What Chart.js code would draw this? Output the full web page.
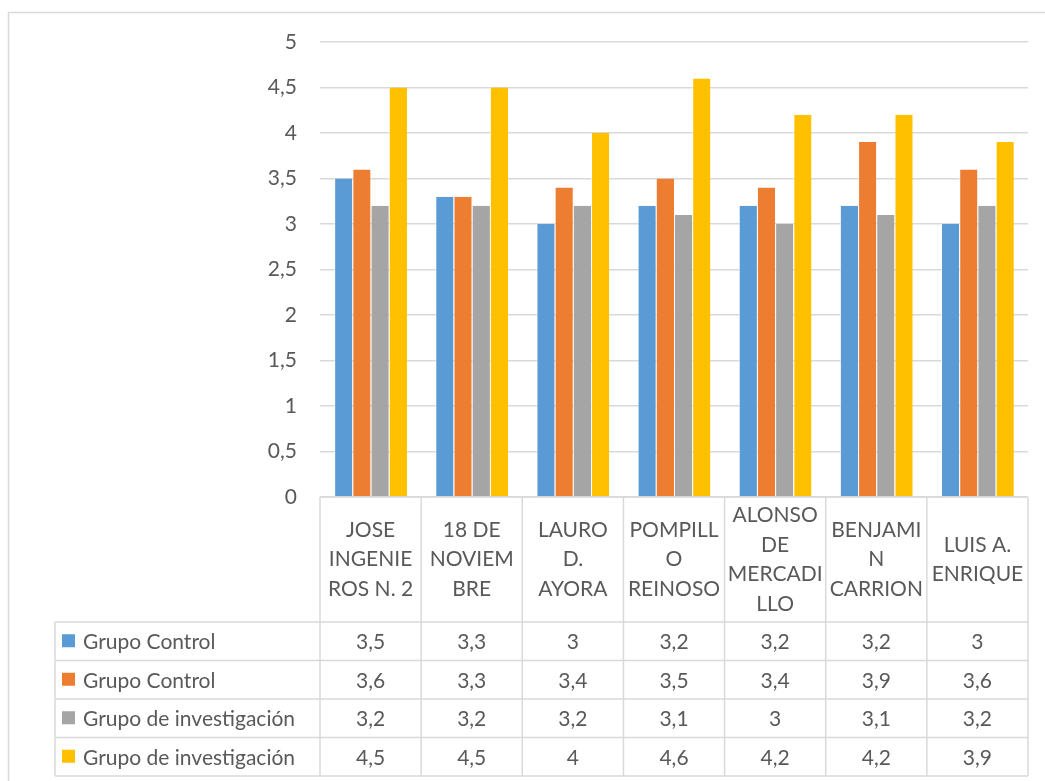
<!DOCTYPE html>
<html>
<head>
<meta charset="utf-8">
<script src="https://cdn.jsdelivr.net/npm/chart.js"></script>
<style>
  html, body { margin:0; padding:0; background:#fff; }
  #wrap { position:absolute; left:0; top:0; width:1045px; height:781px; }
</style>
</head>
<body>
<div id="wrap"><canvas id="grafico"></canvas></div>
<script>
  // Datos
  const categorias = ["JOSE INGENIEROS N. 2", "18 DE NOVIEMBRE", "LAURO D. AYORA", "POMPILLO REINOSO", "ALONSO DE MERCADILLO", "BENJAMIN CARRION", "LUIS A. ENRIQUE"];
  const etiquetas = [
    ["JOSE", "INGENIE", "ROS N. 2"],
    ["18 DE", "NOVIEM", "BRE"],
    ["LAURO", "D.", "AYORA"],
    ["POMPILL", "O", "REINOSO"],
    ["ALONSO", "DE", "MERCADI", "LLO"],
    ["BENJAMI", "N", "CARRION"],
    ["LUIS A.", "ENRIQUE"]
  ];
  const nombresSeries = ["Grupo Control", "Grupo Control", "Grupo de investigación", "Grupo de investigación"];
  const control1 = [3.5, 3.3, 3, 3.2, 3.2, 3.2, 3];
  const control2 = [3.6, 3.3, 3.4, 3.5, 3.4, 3.9, 3.6];
  const investigacion1 = [3.2, 3.2, 3.2, 3.1, 3, 3.1, 3.2];
  const investigacion2 = [4.5, 4.5, 4, 4.6, 4.2, 4.2, 3.9];
  const colores = ["#5B9BD5", "#ED7D31", "#A5A5A5", "#FFC000"];

  const FUENTE = "Lato, 'Open Sans', sans-serif";
  const TEXTO = "#595959";
  const LINEA = "#D9D9D9";
  const fmt = v => String(v).replace(".", ",");

  const series = [control1, control2, investigacion1, investigacion2];

  // Tabla de datos dibujada bajo el eje
  const tablaDatos = {
    id: "tablaDatos",
    beforeDraw(chart) {
      const c = chart.ctx;
      c.save();
      c.strokeStyle = LINEA;
      c.lineWidth = 1.5;
      c.strokeRect(8.5, 12.5, 1100, 1000);
      c.restore();
    },
    afterDraw(chart) {
      const c = chart.ctx;
      const xs = chart.scales.x;
      const area = chart.chartArea;
      const ancho = area.width / categorias.length;
      const topH = area.bottom, finH = 622;
      const altoFila = 38.5;
      const izq = 55;
      c.save();
      c.strokeStyle = LINEA;
      c.lineWidth = 1.5;
      // lineas verticales
      for (let i = 0; i <= categorias.length; i++) {
        const x = area.left + i * ancho;
        c.beginPath();
        c.moveTo(x, topH);
        c.lineTo(x, finH + altoFila * 4);
        c.stroke();
      }
      c.beginPath();
      c.moveTo(izq, finH);
      c.lineTo(izq, finH + altoFila * 4);
      c.stroke();
      // lineas horizontales
      c.beginPath();
      c.moveTo(area.left, topH);
      c.lineTo(area.right, topH);
      c.stroke();
      for (let r = 0; r <= 4; r++) {
        const y = finH + r * altoFila;
        c.beginPath();
        c.moveTo(izq, y);
        c.lineTo(area.right, y);
        c.stroke();
      }
      // encabezados
      c.fillStyle = TEXTO;
      c.font = "21px " + FUENTE;
      c.textAlign = "center";
      c.textBaseline = "middle";
      const centroH = (topH + finH) / 2;
      etiquetas.forEach((lineas, i) => {
        const x = xs.getPixelForValue(i);
        const lh = 29.5;
        const y0 = centroH - (lineas.length - 1) * lh / 2;
        lineas.forEach((t, k) => c.fillText(t, x, y0 + k * lh));
      });
      // filas de series
      series.forEach((vals, s) => {
        const yc = finH + s * altoFila + altoFila / 2;
        c.fillStyle = colores[s];
        c.fillRect(62, yc - 7, 13, 13);
        c.fillStyle = TEXTO;
        c.textAlign = "left";
        c.fillText(nombresSeries[s], 83, yc + 1);
        c.textAlign = "center";
        vals.forEach((v, i) => c.fillText(fmt(v), xs.getPixelForValue(i), yc + 1));
      });
      c.restore();
    }
  };

  new Chart(document.getElementById("grafico"), {
    type: "bar",
    data: {
      labels: categorias,
      datasets: series.map((d, s) => ({
        label: nombresSeries[s],
        data: d,
        backgroundColor: colores[s],
        borderColor: "rgba(255,255,255,0.7)",
        borderWidth: { left: 1, right: 0, top: 0, bottom: 0 },
        categoryPercentage: 0.72,
        barPercentage: 1.0
      }))
    },
    options: {
      responsive: true,
      maintainAspectRatio: false,
      animation: false,
      layout: { padding: { top: 42, right: 17, bottom: 284, left: 0 } },
      plugins: { legend: { display: false }, tooltip: { enabled: false } },
      scales: {
        x: { display: false },
        y: {
          min: 0, max: 5,
          afterFit(scale) { scale.width = 320; },
          ticks: { stepSize: 0.5, padding: 23, color: TEXTO, font: { family: FUENTE, size: 21 }, callback: v => fmt(v) },
          grid: { color: LINEA, lineWidth: 1.5, drawTicks: false },
          border: { display: false }
        }
      }
    },
    plugins: [tablaDatos]
  });
</script>
</body>
</html>
